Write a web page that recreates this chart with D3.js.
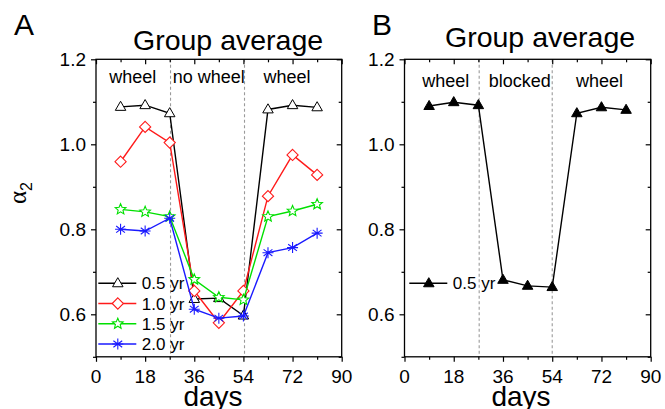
<!DOCTYPE html>
<html><head><meta charset="utf-8">
<script src="https://cdn.jsdelivr.net/npm/d3@7"></script>
<style>
html,body{margin:0;padding:0;background:#fff;}
svg{display:block;font-family:"Liberation Sans",Arial,sans-serif;}
</style></head>
<body>
<svg id="c" width="665" height="409"></svg>
<script>
// ---- data ----
const days = [9, 18, 27, 36, 45, 54, 63, 72, 81];
const xTicks = [0, 18, 36, 54, 72, 90];
const xMinor = [9, 27, 45, 63, 81];
const yTicks = [0.6, 0.8, 1.0, 1.2];
const yMinor = [0.5, 0.7, 0.9, 1.1];
const seriesNamesA = ["0.5 yr", "1.0 yr", "1.5 yr", "2.0 yr"];
const a05 = [1.088, 1.092, 1.073, 0.636, 0.638, 0.597, 1.082, 1.092, 1.087];
const a10 = [0.959, 1.041, 1.004, 0.655, 0.580, 0.655, 0.878, 0.975, 0.928];
const a15 = [0.847, 0.841, 0.830, 0.682, 0.640, 0.634, 0.830, 0.843, 0.859];
const a20 = [0.800, 0.796, 0.826, 0.612, 0.591, 0.596, 0.745, 0.757, 0.791];
const b05 = [1.090, 1.099, 1.092, 0.681, 0.667, 0.664, 1.073, 1.087, 1.081];
const phaseLabelsA = ["wheel", "no wheel", "wheel"];
const phaseLabelsB = ["wheel", "blocked", "wheel"];
const phaseCentersA = [13.5, 41.3, 70.0];
const phaseCentersB = [15.1, 42.1, 71.3];
const boundariesA = [27.3, 54.4];
const boundariesB = [27.3, 54.0];

const svg = d3.select("#c");
const y = d3.scaleLinear().domain([0.5, 1.2]).range([356.8, 59.3]);

function star(r){ // 5-point star path
  let p = [];
  for (let i = 0; i < 10; i++) {
    const rr = i % 2 === 0 ? r : r * 0.45;
    const a = -Math.PI / 2 + i * Math.PI / 5;
    p.push([rr * Math.cos(a), rr * Math.sin(a)]);
  }
  return "M" + p.map(d => d.join(",")).join("L") + "Z";
}
function marker(g, type, color, cx, cy) {
  if (type === "tri" || type === "trifill") {
    const s = 10.5, h = s * Math.sqrt(3) / 2;
    g.append("path").attr("d", `M${cx},${cy - h * 0.62}L${cx + s / 2},${cy + h * 0.38}L${cx - s / 2},${cy + h * 0.38}Z`)
      .attr("fill", type === "trifill" ? color : "#fff").attr("stroke", color).attr("stroke-width", 1);
  } else if (type === "dia") {
    const r = 5.6;
    g.append("path").attr("d", `M${cx},${cy - r}L${cx + r},${cy}L${cx},${cy + r}L${cx - r},${cy}Z`)
      .attr("fill", "#fff").attr("stroke", color).attr("stroke-width", 1.1);
  } else if (type === "star") {
    g.append("path").attr("d", star(5.6)).attr("transform", `translate(${cx},${cy})`)
      .attr("fill", "#fff").attr("stroke", color).attr("stroke-width", 1.1);
  } else if (type === "ast") {
    const r = 5.5;
    let d = `M${cx},${cy - r}L${cx},${cy + r}`;
    d += `M${cx - r * 0.8},${cy - r * 0.6}L${cx + r * 0.8},${cy + r * 0.6}`;
    d += `M${cx - r * 0.8},${cy + r * 0.6}L${cx + r * 0.8},${cy - r * 0.6}`;
    d += `M${cx - r},${cy}L${cx + r},${cy}`;
    g.append("path").attr("d", d).attr("stroke", color).attr("stroke-width", 1.1).attr("fill", "none");
  }
}

function panel(opt) {
  const x = d3.scaleLinear().domain([0, 90]).range(opt.xr);
  const g = svg.append("g");
  const [x0, x1] = opt.xr, y0 = y(1.2), y1 = y(0.5);

  // dashed boundaries
  opt.bounds.forEach(b => {
    g.append("line").attr("x1", x(b)).attr("x2", x(b)).attr("y1", y0).attr("y2", y1)
      .attr("stroke", "#9a9a9a").attr("stroke-width", 1.1).attr("stroke-dasharray", "3,2.5");
  });

  // axes
  g.append("g").attr("transform", `translate(0,${y1})`)
    .call(d3.axisBottom(x).tickValues(xTicks).tickSize(5).tickFormat(""));
  g.append("g").attr("transform", `translate(0,${y1})`)
    .call(d3.axisBottom(x).tickValues(xMinor).tickSize(3).tickFormat(""));
  g.append("g").attr("transform", `translate(0,${y0})`)
    .call(d3.axisTop(x).tickValues(xTicks).tickSize(-5).tickFormat(""));
  g.append("g").attr("transform", `translate(0,${y0})`)
    .call(d3.axisTop(x).tickValues(xMinor).tickSize(-3).tickFormat(""));
  g.append("g").attr("transform", `translate(${x0},0)`)
    .call(d3.axisLeft(y).tickValues(yTicks).tickSize(5).tickFormat(""));
  g.append("g").attr("transform", `translate(${x0},0)`)
    .call(d3.axisLeft(y).tickValues(yMinor).tickSize(3).tickFormat(""));
  g.append("g").attr("transform", `translate(${x1},0)`)
    .call(d3.axisRight(y).tickValues(yTicks).tickSize(-5).tickFormat(""));
  g.append("g").attr("transform", `translate(${x1},0)`)
    .call(d3.axisRight(y).tickValues(yMinor).tickSize(-3).tickFormat(""));
  g.selectAll(".domain").remove();
  g.selectAll(".tick line").attr("stroke", "#000").attr("stroke-width", 1.2);

  g.append("rect").attr("x", x0).attr("y", y0).attr("width", x1 - x0).attr("height", y1 - y0)
    .attr("fill", "none").attr("stroke", "#000").attr("stroke-width", 1.3);

  // tick labels
  g.selectAll(".xl").data(xTicks).enter().append("text")
    .attr("x", d => x(d)).attr("y", 382.7).attr("text-anchor", "middle")
    .attr("font-size", 19).text(d => d);
  g.selectAll(".yl").data(yTicks).enter().append("text")
    .attr("x", x0 - 10).attr("y", d => y(d)).attr("dy", "0.35em").attr("text-anchor", "end")
    .attr("font-size", 19).text(d => d.toFixed(1));

  // phase labels
  opt.phases.forEach((t, i) => {
    g.append("text").attr("x", x(opt.phaseX[i])).attr("y", opt.phaseY).attr("text-anchor", "middle")
      .attr("font-size", 18).text(t);
  });

  // titles
  g.append("text").attr("x", opt.titleX).attr("y", opt.titleY).attr("font-size", 28.5).text("Group average");
  g.append("text").attr("x", opt.letterX).attr("y", 35).attr("font-size", 30).text(opt.letter);
  g.append("text").attr("x", opt.daysX).attr("y", 405.5).attr("text-anchor", "middle").attr("font-size", 28).text("days");

  // series
  const line = d3.line().x((d, i) => x(days[i])).y(d => y(d));
  opt.series.forEach(s => {
    g.append("path").attr("d", line(s.vals)).attr("fill", "none").attr("stroke", s.color).attr("stroke-width", 1.4);
    s.vals.forEach((v, i) => marker(g, s.type, s.color, x(days[i]), y(v)));
  });

  // legend
  opt.legend.forEach(l => {
    g.append("line").attr("x1", l.x).attr("x2", l.x + 38).attr("y1", l.y).attr("y2", l.y)
      .attr("stroke", l.color).attr("stroke-width", 1.4);
    marker(g, l.type, l.color, l.x + 19.5, l.y);
    g.append("text").attr("x", l.x + 43.5).attr("y", l.y).attr("dy", "0.36em").attr("font-size", 17).text(l.name);
  });
}

const colors = ["#000000", "#ff1a1a", "#00e000", "#1a1aff"];
const typesA = ["tri", "dia", "star", "ast"];
const valsA = [a05, a10, a15, a20];
const legendYA = [283.3, 303.5, 323.7, 344];

panel({
  xr: [96, 341.7], bounds: boundariesA, phases: phaseLabelsA, phaseX: phaseCentersA, phaseY: 83,
  titleX: 133, titleY: 50, letter: "A", letterX: 14, daysX: 213,
  series: valsA.map((v, i) => ({ vals: v, color: colors[i], type: typesA[i] })),
  legend: seriesNamesA.map((n, i) => ({ name: n, color: colors[i], type: typesA[i], x: 98.3, y: legendYA[i] }))
});
panel({
  xr: [404.5, 650.7], bounds: boundariesB, phases: phaseLabelsB, phaseX: phaseCentersB, phaseY: 87,
  titleX: 445, titleY: 47, letter: "B", letterX: 372, daysX: 521,
  series: [{ vals: b05, color: "#000", type: "trifill" }],
  legend: [{ name: seriesNamesA[0], color: "#000", type: "trifill", x: 409.3, y: 283.3 }]
});

// y-axis label alpha_2
const yl = svg.append("text").attr("transform", "translate(26,204) rotate(-90)")
  .attr("font-size", 25).attr("font-family", "'Liberation Serif','DejaVu Serif',serif");
yl.append("tspan").text("α");
yl.append("tspan").attr("font-size", 16).attr("dy", 6).attr("font-family", "'Liberation Sans',Arial,sans-serif").text("2");
</script>
</body></html>
